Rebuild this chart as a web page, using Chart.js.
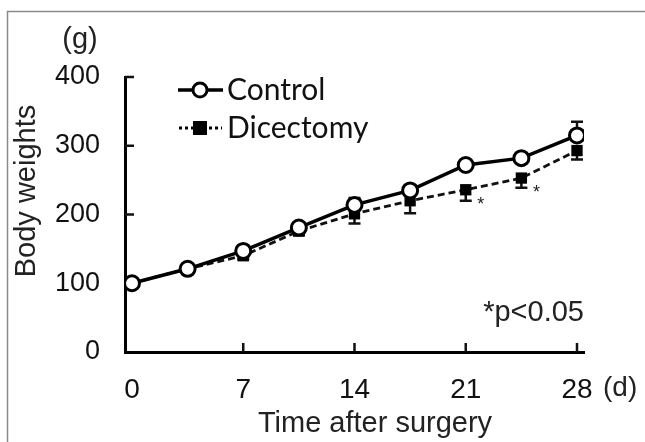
<!DOCTYPE html>
<html>
<head>
<meta charset="utf-8">
<script src="https://cdn.jsdelivr.net/npm/chart.js@4"></script>
<style>
  body { margin: 0; background: #fff; }
  canvas { display: block; }
</style>
</head>
<body>
<canvas class="weights" width="645" height="442"></canvas>
<script>
const days = [0, 3.5, 7, 10.5, 14, 17.5, 21, 24.5, 28];
const controlWeights = [100, 121, 147, 181, 214, 235, 272, 282, 315];
const controlErrors = [0, 2, 4, 5, 10, 5, 5, 5, 20];
const dicectomyWeights = [100, 121, 140, 176, 201, 220, 236, 253, 293];
const dicectomyErrors = [0, 2, 5, 6, 14, 18, 16, 14, 13];
const significant = [false, false, false, false, false, false, true, true, false];
const xTicks = [0, 7, 14, 21, 28];
const yTicks = [0, 100, 200, 300, 400];

const sans = '"Liberation Sans", Arial, sans-serif';
const legendFont = 'Lato, "Open Sans", sans-serif';

const toPoints = (values) => days.map((d, i) => ({ x: d, y: values[i] }));

// error bars, inward ticks, asterisks and the loose texts
const extras = {
    id: 'extras',
    beforeDraw(chart) {
        const ctx = chart.ctx;
        ctx.save();
        ctx.strokeStyle = '#8a8a8a';
        ctx.lineWidth = 1.5;
        ctx.beginPath();
        ctx.moveTo(7.5, 442);
        ctx.lineTo(7.5, 11.5);
        ctx.lineTo(645, 11.5);
        ctx.stroke();
        ctx.restore();
    },
    beforeDatasetsDraw(chart) {
        const ctx = chart.ctx;
        const xs = chart.scales.x;
        const ys = chart.scales.y;
        const area = chart.chartArea;
        ctx.save();
        ctx.strokeStyle = '#111';
        ctx.lineWidth = 2.5;
        ctx.beginPath();
        xTicks.slice(1).forEach(t => {
            const px = xs.getPixelForValue(t);
            ctx.moveTo(px, area.bottom);
            ctx.lineTo(px, area.bottom - 9);
        });
        yTicks.slice(1).forEach(t => {
            const py = ys.getPixelForValue(t);
            ctx.moveTo(area.left, py);
            ctx.lineTo(area.left + 9, py);
        });
        ctx.stroke();

        ctx.lineWidth = 2.5;
        const bar = (x, from, to) => {
            const px = xs.getPixelForValue(x);
            const p1 = ys.getPixelForValue(from);
            const p2 = ys.getPixelForValue(to);
            ctx.beginPath();
            ctx.moveTo(px, p1);
            ctx.lineTo(px, p2);
            ctx.moveTo(px - 6, p2);
            ctx.lineTo(px + 6, p2);
            ctx.stroke();
        };
        days.forEach((d, i) => {
            if (controlErrors[i] > 0) bar(d, controlWeights[i], controlWeights[i] + controlErrors[i]);
            if (dicectomyErrors[i] > 0) bar(d, dicectomyWeights[i], dicectomyWeights[i] - dicectomyErrors[i]);
        });
        ctx.restore();
    },
    afterDraw(chart) {
        const ctx = chart.ctx;
        const xs = chart.scales.x;
        const ys = chart.scales.y;
        ctx.save();
        ctx.fillStyle = '#222';

        ctx.font = '18px ' + sans;
        ctx.textAlign = 'center';
        ctx.textBaseline = 'middle';
        days.forEach((d, i) => {
            if (significant[i]) {
                ctx.fillText('*', xs.getPixelForValue(d) + 15, ys.getPixelForValue(dicectomyWeights[i]) + 15);
            }
        });

        ctx.font = '29px ' + sans;
        ctx.textAlign = 'center';
        ctx.fillText('(g)', 80, 40);
        ctx.fillText('Time after surgery', 375, 424);
        ctx.textAlign = 'left';
        ctx.font = '28px ' + sans;
        ctx.fillText('(d)', xs.getPixelForValue(28) + 26, 388);
        ctx.textAlign = 'right';
        ctx.font = '29px ' + sans;
        ctx.fillText('*p<0.05', 584, 313);

        ctx.save();
        ctx.translate(27, 191);
        ctx.rotate(-Math.PI / 2);
        ctx.textAlign = 'center';
        ctx.fillText('Body weights', 0, 0);
        ctx.restore();

        // legend
        ctx.strokeStyle = '#000';
        ctx.lineWidth = 3.5;
        ctx.beginPath();
        ctx.moveTo(178, 90);
        ctx.lineTo(223, 90);
        ctx.stroke();
        ctx.beginPath();
        ctx.arc(200, 90, 7, 0, Math.PI * 2);
        ctx.fillStyle = '#fff';
        ctx.fill();
        ctx.lineWidth = 3;
        ctx.stroke();

        ctx.lineWidth = 3;
        ctx.setLineDash([3, 3]);
        ctx.beginPath();
        ctx.moveTo(179, 128);
        ctx.lineTo(222, 128);
        ctx.stroke();
        ctx.setLineDash([]);
        ctx.fillStyle = '#000';
        ctx.fillRect(193, 121, 14, 14);

        ctx.fillStyle = '#111';
        ctx.font = '30px ' + legendFont;
        ctx.textAlign = 'left';
        ctx.textBaseline = 'middle';
        ctx.fillText('Control', 227, 90);
        ctx.fillText('Dicectomy', 227, 128);
        ctx.restore();
    }
};

new Chart(document.querySelector('.weights'), {
    type: 'line',
    data: {
        datasets: [
            {
                label: 'Control',
                data: toPoints(controlWeights),
                borderColor: '#000',
                borderWidth: 3.5,
                pointStyle: 'circle',
                pointRadius: 7.5,
                pointBorderWidth: 3,
                pointBackgroundColor: '#fff',
                pointBorderColor: '#000',
                tension: 0
            },
            {
                label: 'Dicectomy',
                data: toPoints(dicectomyWeights),
                borderColor: '#111',
                borderWidth: 2.8,
                borderDash: [7, 4],
                pointStyle: 'rect',
                pointRadius: 8,
                pointBorderWidth: 0,
                pointBackgroundColor: '#000',
                pointBorderColor: '#000',
                tension: 0
            }
        ]
    },
    options: {
        responsive: false,
        animation: false,
        layout: { padding: { top: 77, right: 61, left: 0, bottom: 0 } },
        plugins: {
            legend: { display: false },
            tooltip: { enabled: false }
        },
        scales: {
            x: {
                type: 'linear',
                min: -0.44,
                max: 28.44,
                afterFit(scale) { scale.height = 90; },
                afterBuildTicks(scale) { scale.ticks = xTicks.map(v => ({ value: v })); },
                grid: { display: false, drawTicks: false },
                border: { display: true, color: '#000', width: 3 },
                ticks: {
                    color: '#111',
                    padding: 21,
                    maxRotation: 0,
                    font: { family: sans, size: 28 }
                }
            },
            y: {
                min: 0,
                max: 400,
                afterFit(scale) { scale.width = 125; },
                afterBuildTicks(scale) { scale.ticks = yTicks.map(v => ({ value: v })); },
                grid: { display: false, drawTicks: false },
                border: { display: true, color: '#000', width: 3 },
                ticks: {
                    color: '#111',
                    padding: 25,
                    font: { family: sans, size: 27 }
                }
            }
        }
    },
    plugins: [extras]
});
</script>
</body>
</html>
